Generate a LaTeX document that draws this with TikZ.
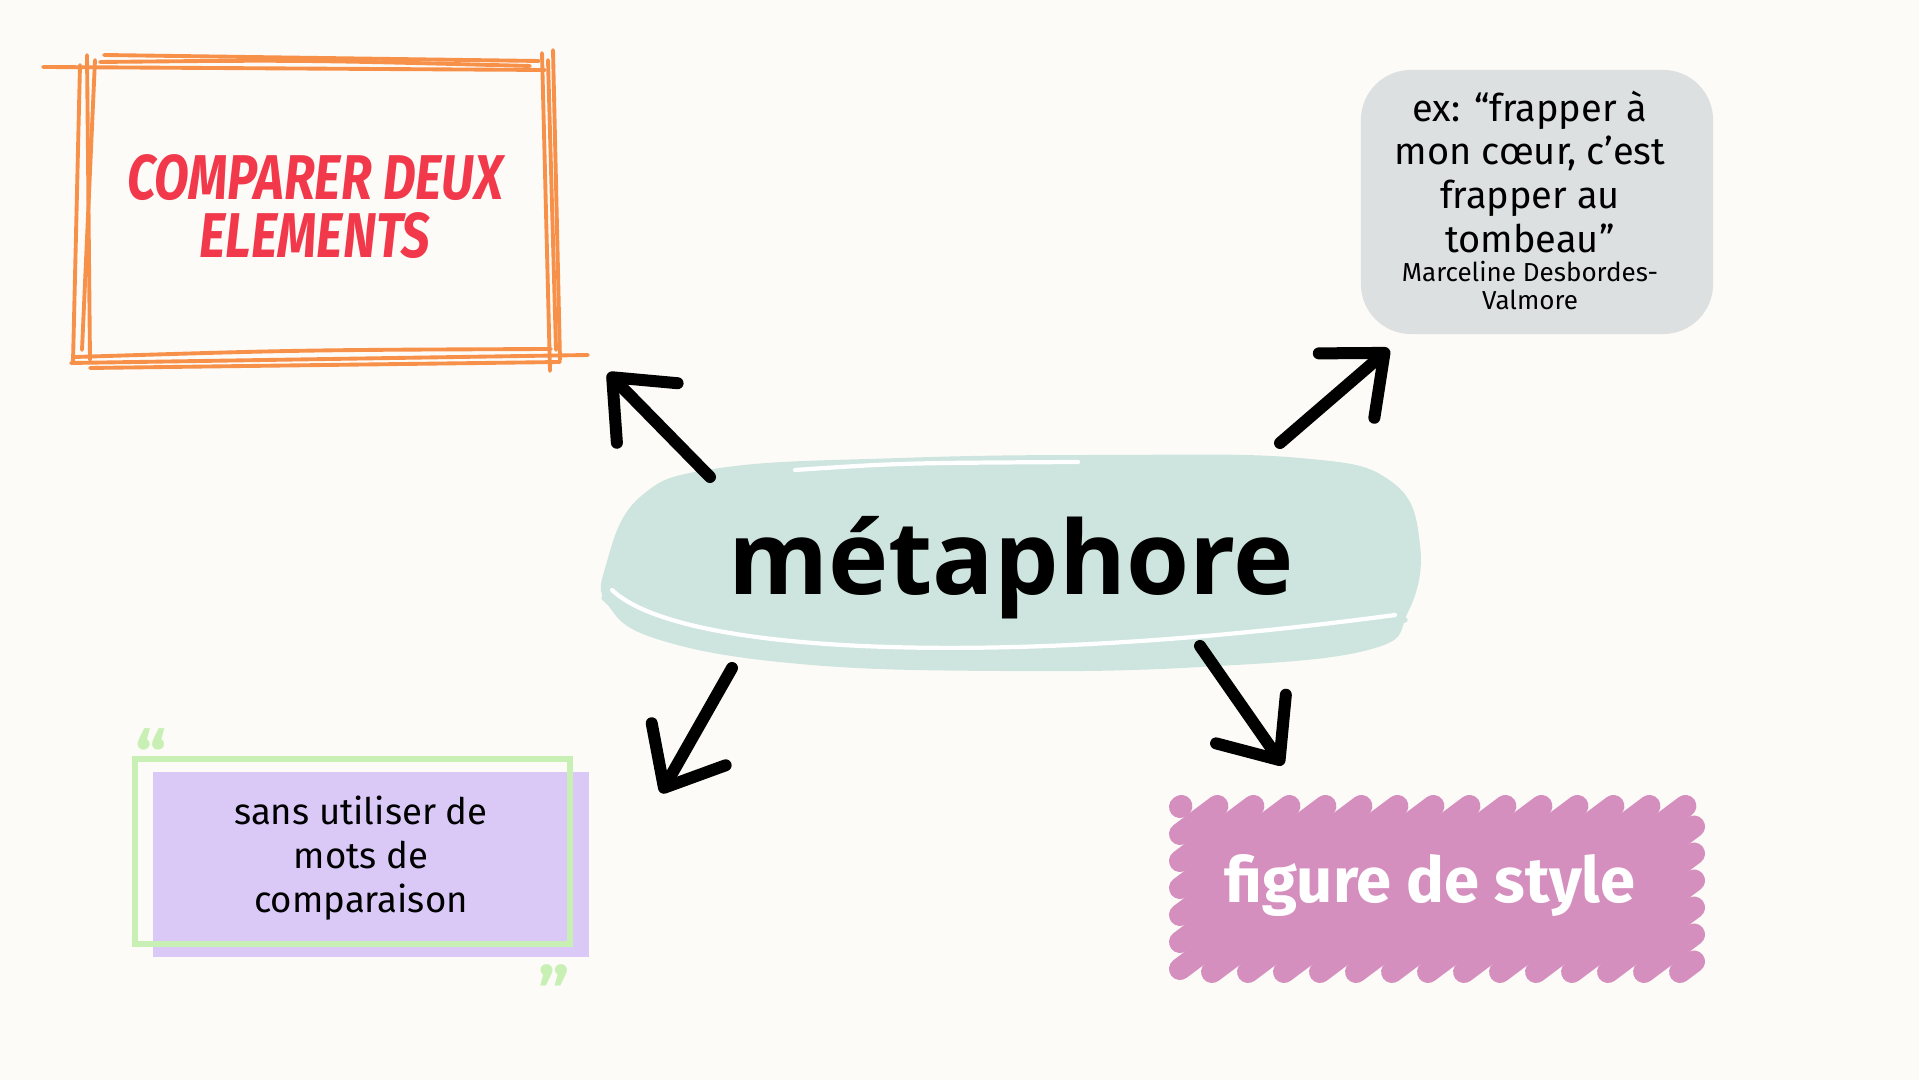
\documentclass[tikz,border=0pt]{standalone}
\usepackage{fontspec}
\setmainfont{Fira Sans}
\newfontfamily\titlefont{Open Sans}
\newfontfamily\compfont{Fira Sans}[FakeStretch=0.8]
\usepackage{tikz}
\usetikzlibrary{arrows.meta, calc, positioning}

\definecolor{fond}{HTML}{FDFBF7}
\definecolor{orangeframe}{HTML}{F7914A}
\definecolor{rouge}{HTML}{F2394B}
\definecolor{gris}{HTML}{DDE0E1}
\definecolor{menthe}{HTML}{CDE5DE}
\definecolor{lilas}{HTML}{D9C6F7}
\definecolor{vert}{HTML}{C8F0B4}
\definecolor{rose}{HTML}{D48FBE}

\tikzset{
  sketch/.style={draw=orangeframe, line width=1.1pt, line cap=round},
  fleche/.style={line width=0.12cm, line cap=round,
    -{Straight Barb[length=0.5cm, width=0.85cm, round]}},
  scribble/.style={draw=rose, line width=0.22cm, line cap=round},
  hand/.style={align=center, inner sep=0pt, text=black},
  quote/.style={inner sep=0pt, text=vert, font=\bfseries\fontsize{20}{20}\selectfont},
}

\begin{document}
\begin{tikzpicture}[x=0.01cm, y=-0.01cm]
    % Background
    \fill[fond] (0,0) rectangle (1919,1080);
    \useasboundingbox (0,0) rectangle (1919,1080);

    % Orange sketchy frame
    \draw[sketch] (43,67) -- (545,70);
    \draw[sketch] (104,55) -- (539,61);
    \draw[sketch] (100,62) .. controls (300,60) .. (530,66);
    \draw[sketch] (71,363) -- (588,355);
    \draw[sketch] (75,357) .. controls (300,350) .. (551,349);
    \draw[sketch] (90,368) -- (560,362);
    \draw[sketch] (80,65) -- (73,362);
    \draw[sketch] (87,55) -- (90,360);
    \draw[sketch] (95,60) -- (82,350);
    \draw[sketch] (542,53) -- (550,371);
    \draw[sketch] (553,50) -- (560,360);
    \draw[sketch] (548,60) -- (556,350);

    \node[hand, text=rouge, font=\compfont\bfseries\itshape\fontsize{18}{16.5}\selectfont]
        (cmp) at (315,207) {COMPARER DEUX\\ELEMENTS};

    % Grey quote box
    \node[fill=gris, rounded corners=0.5cm, minimum width=3.52cm, minimum height=2.64cm]
        (exbox) at (1537,202) {};
    \node[hand, font=\fontsize{10.8}{12.5}\selectfont] (ex) at (1530,172)
        {ex: “frapper à\\mon cœur, c’est\\frapper au\\tombeau”};
    \node[hand, font=\fontsize{7.4}{8}\selectfont, below=0.06cm of ex] (auteur)
        {Marceline Desbordes-\\Valmore};

    % Central blob
    \fill[menthe] plot[smooth cycle, tension=0.7] coordinates {
        (606,565) (640,497) (720,468) (900,458) (1100,455) (1300,458)
        (1392,482) (1420,545) (1408,612) (1368,650) (1200,667)
        (1000,671) (800,664) (660,640) (608,605)};
    \draw[white, line width=1.2pt, line cap=round] (795,470) .. controls (900,463) .. (1078,462);
    \draw[white, line width=1.2pt, line cap=round] (612,590) .. controls (680,655) and (1000,668) .. (1395,615);
    \draw[menthe, line width=1.5pt, line cap=round] (604,598) .. controls (680,672) and (1000,680) .. (1405,620);
    \node[hand, font=\titlefont\bfseries\fontsize{29}{29}\selectfont] (meta) at (1011,568) {métaphore};

    % Purple box
    \draw[vert, line width=1.6pt] (135,759) rectangle (570,944);
    \fill[lilas, opacity=0.95] (153,772) rectangle (589,957);
    \draw[vert, line width=1.6pt] (570,772) -- (570,944) -- (153,944);
    \node[quote, anchor=north west] (q1) at (135,728) {“};
    \node[quote, anchor=north west] (q2) at (538,964) {”};
    \node[hand, font=\fontsize{10.4}{12.5}\selectfont] (sans) at (361,858)
        {sans utiliser de\\mots de\\comparaison};

    % Pink scribble
    \fill[rose] (1200,822) rectangle (1675,958);
    \foreach \c in {1692,1719,...,2242} {
        \pgfmathsetmacro{\xa}{max(1180,(\c-972)/0.75)}
        \pgfmathsetmacro{\ya}{\c-0.75*\xa}
        \pgfmathsetmacro{\xb}{min(1694,(\c-806)/0.75)}
        \pgfmathsetmacro{\yb}{\c-0.75*\xb}
        \draw[scribble] (\xa,\ya) -- (\xb,\yb);
    }
    \node[hand, text=white, font=\bfseries\fontsize{18}{18}\selectfont] (fig) at (1430,886)
        {figure de style};

    % Arrows
    \coordinate (a1) at (710,477);
    \coordinate (b1) at (608,373);
    \coordinate (a2) at (1280,443);
    \coordinate (b2) at (1389,349);
    \coordinate (a3) at (732,668);
    \coordinate (b3) at (661,793);
    \coordinate (a4) at (1200,646);
    \coordinate (b4) at (1283,765);
    \draw[fleche] (a1) -- (b1);
    \draw[fleche] (a2) -- (b2);
    \draw[fleche] (a3) -- (b3);
    \draw[fleche] (a4) -- (b4);
\end{tikzpicture}
\end{document}
